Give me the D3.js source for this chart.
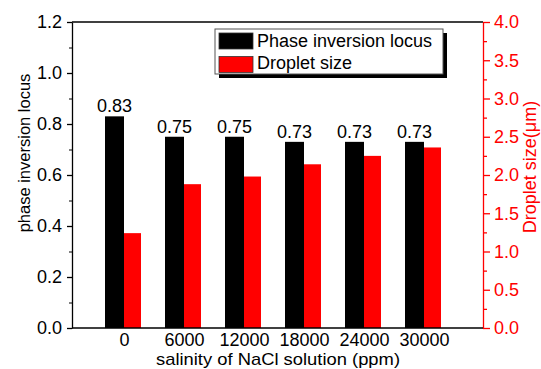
<!DOCTYPE html>
<html>
<head>
<meta charset="utf-8">
<script src="https://cdn.jsdelivr.net/npm/d3@7"></script>
<style>
  html, body { margin: 0; padding: 0; background: #fff; }
  svg { display: block; font-family: "Liberation Sans", Arial, sans-serif; }
</style>
</head>
<body>
<svg id="chart" width="541" height="369"></svg>
<script>
// Salinity levels (ppm) and the two measured series
const categories = ["0", "6000", "12000", "18000", "24000", "30000"];
const inversionLocus = [0.83, 0.75, 0.75, 0.73, 0.73, 0.73];
const dropletSize = [1.24, 1.88, 1.98, 2.14, 2.25, 2.36];
const leftTicks = [0, 0.2, 0.4, 0.6, 0.8, 1.0, 1.2];
const rightTicks = [0, 0.5, 1.0, 1.5, 2.0, 2.5, 3.0, 3.5, 4.0];
const seriesNames = ["Phase inversion locus", "Droplet size"];

const W = 541, H = 369;
const plot = { left: 72, right: 483, top: 22, bottom: 328 };
const svg = d3.select("#chart");

const y0 = d3.scaleLinear().domain([0, 1.2]).range([plot.bottom, plot.top]);
const y1 = d3.scaleLinear().domain([0, 4]).range([plot.bottom, plot.top]);
const x = d3.scalePoint().domain(categories).range([plot.left + 52, plot.right - 59]);

const blackW = 19, redW = 17;

// Bars: phase inversion locus (left axis)
svg.append("g").selectAll("rect")
  .data(inversionLocus)
  .join("rect")
  .attr("x", (d, i) => x(categories[i]) - blackW)
  .attr("y", d => y0(d))
  .attr("width", blackW)
  .attr("height", d => y0(0) - y0(d))
  .attr("fill", "#000");

// Bars: droplet size (right axis)
svg.append("g").selectAll("rect")
  .data(dropletSize)
  .join("rect")
  .attr("x", (d, i) => x(categories[i]))
  .attr("y", d => y1(d))
  .attr("width", redW)
  .attr("height", d => y1(0) - y1(d))
  .attr("fill", "#ff0000");

// Value labels above the black bars
svg.append("g").selectAll("text")
  .data(inversionLocus)
  .join("text")
  .attr("x", (d, i) => x(categories[i]) - blackW / 2)
  .attr("y", d => y0(d) - 4)
  .attr("text-anchor", "middle")
  .attr("font-size", 18)
  .attr("fill", "#000")
  .text(d => d.toFixed(2));

// Top frame line
svg.append("line")
  .attr("x1", plot.left).attr("x2", plot.right)
  .attr("y1", plot.top).attr("y2", plot.top)
  .attr("stroke", "#000").attr("stroke-width", 1.3);

// Left axis: minor ticks then major ticks with labels
const minorLeft = d3.range(0.1, 1.2, 0.2);
svg.append("g")
  .attr("transform", `translate(${plot.left},0)`)
  .call(d3.axisLeft(y0).tickValues(minorLeft).tickSize(3).tickFormat(""))
  .call(g => g.select(".domain").remove());
const leftAxis = svg.append("g")
  .attr("transform", `translate(${plot.left},0)`)
  .call(d3.axisLeft(y0).tickValues(leftTicks).tickSize(5).tickSizeOuter(0).tickPadding(5).tickFormat(d3.format(".1f")));
leftAxis.selectAll("text").attr("font-size", 18).attr("font-family", "Liberation Sans, Arial, sans-serif").attr("fill", "#000");
leftAxis.selectAll("line, path").attr("stroke", "#000").attr("stroke-width", 1.3);

// Right axis in red
const minorRight = d3.range(0.25, 4, 0.5);
svg.append("g")
  .attr("transform", `translate(${plot.right},0)`)
  .call(d3.axisRight(y1).tickValues(minorRight).tickSize(4).tickFormat(""))
  .call(g => g.select(".domain").remove())
  .selectAll("line").attr("stroke", "#ff0000").attr("stroke-width", 1.3);
const rightAxis = svg.append("g")
  .attr("transform", `translate(${plot.right},0)`)
  .call(d3.axisRight(y1).tickValues(rightTicks).tickSize(7).tickSizeOuter(0).tickPadding(4).tickFormat(d3.format(".1f")));
rightAxis.selectAll("text").attr("font-size", 18).attr("font-family", "Liberation Sans, Arial, sans-serif").attr("fill", "#ff0000");
rightAxis.selectAll("line, path").attr("stroke", "#ff0000").attr("stroke-width", 1.3);

// Bottom axis: baseline with category labels under each group
const bottomAxis = svg.append("g")
  .attr("transform", `translate(0,${plot.bottom})`)
  .call(d3.axisBottom(x).tickSize(0).tickPadding(10));
bottomAxis.select(".domain")
  .attr("d", `M${plot.left},0H${plot.right}`)
  .attr("stroke", "#000").attr("stroke-width", 1.3);
bottomAxis.selectAll("text")
  .attr("font-size", 18).attr("font-family", "Liberation Sans, Arial, sans-serif")
  .attr("fill", "#000").attr("dy", null).attr("y", 18);

// Axis titles
svg.append("text")
  .attr("transform", `translate(30,${(plot.top + plot.bottom) / 2 - 22}) rotate(-90)`)
  .attr("text-anchor", "middle")
  .attr("font-size", 16.5)
  .attr("fill", "#000")
  .text("phase inversion locus");

svg.append("text")
  .attr("transform", `translate(536,${(plot.top + plot.bottom) / 2 - 8}) rotate(-90)`)
  .attr("text-anchor", "middle")
  .attr("font-size", 18)
  .attr("fill", "#ff0000")
  .text("Droplet size(μm)");

svg.append("text")
  .attr("x", 278)
  .attr("y", 365.2)
  .attr("text-anchor", "middle")
  .attr("font-size", 17)
  .attr("textLength", 244)
  .attr("lengthAdjust", "spacingAndGlyphs")
  .attr("fill", "#000")
  .text("salinity of NaCl solution (ppm)");

// Legend with drop shadow
const legend = svg.append("g").attr("transform", "translate(215,29)");
const lw = 228, lh = 45;
legend.append("rect").attr("x", 4).attr("y", 4).attr("width", lw).attr("height", lh).attr("fill", "#000");
legend.append("rect").attr("x", 0).attr("y", 0).attr("width", lw).attr("height", lh)
  .attr("fill", "#fff").attr("stroke", "#555").attr("stroke-width", 1);
const swatchColors = ["#000", "#ff0000"];
seriesNames.forEach((name, i) => {
  legend.append("rect")
    .attr("x", 4).attr("y", 4 + i * 23.5)
    .attr("width", 34).attr("height", 16)
    .attr("fill", swatchColors[i]).attr("stroke", "#333").attr("stroke-width", 0.8);
  legend.append("text")
    .attr("x", 42).attr("y", 17.5 + i * 22)
    .attr("font-size", 18).attr("fill", "#000")
    .text(name);
});
</script>
</body>
</html>
